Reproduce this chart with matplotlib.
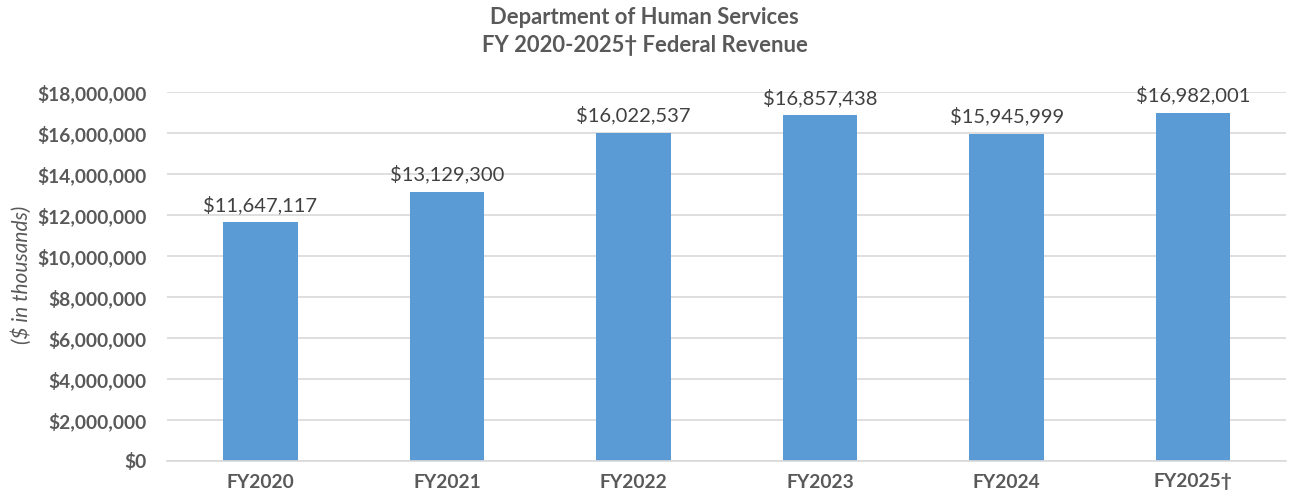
import matplotlib.pyplot as plt
from matplotlib.ticker import FuncFormatter

years = ["FY2020", "FY2021", "FY2022", "FY2023", "FY2024", "FY2025\u2020"]
revenue = [11647117, 13129300, 16022537, 16857438, 15945999, 16982001]
y_ticks = list(range(0, 18000001, 2000000))

plt.rcParams["font.family"] = ["Lato", "DejaVu Sans"]
gray = "#595959"

fig = plt.figure(figsize=(12.89, 5.0), dpi=100)
ax = fig.add_axes([0.1296, 0.078, 0.8684, 0.738])

x = range(len(years))
ax.bar(x, revenue, width=0.4, color="#5B9BD5", zorder=2)

# value labels above each bar
for xi, val in zip(x, revenue):
    ax.annotate(f"${val:,.0f}", (xi, val), xytext=(0, 6), textcoords="offset points",
                ha="center", va="bottom", fontsize=14.5, color="#404040")

ax.set_xlim(-0.5, len(years) - 0.5)
ax.set_ylim(0, 18000000)
ax.set_yticks(y_ticks)
ax.yaxis.set_major_formatter(FuncFormatter(lambda v, p: f"${v:,.0f}"))
ax.set_xticks(list(x))
ax.set_xticklabels(years)

ax.grid(axis="y", color="#D9D9D9", linewidth=1.2, zorder=0)
for side in ["top", "right", "left"]:
    ax.spines[side].set_visible(False)
ax.spines["bottom"].set_color("#D9D9D9")
ax.spines["bottom"].set_linewidth(1.2)
ax.tick_params(length=0)
ax.tick_params(axis="y", pad=14.5)
ax.tick_params(axis="x", pad=9)
for lbl in ax.get_yticklabels() + ax.get_xticklabels():
    lbl.set_fontweight("bold")
    lbl.set_fontsize(13.8)
    lbl.set_color(gray)

fig.text(0.0165, 0.45, "($ in thousands)", rotation=90, ha="center", va="center",
         fontsize=15, style="italic", color=gray)

fig.text(0.5, 0.966, "Department of Human Services", ha="center", va="center",
         fontsize=15.8, fontweight="bold", color=gray)
fig.text(0.5, 0.91, "FY 2020-2025\u2020 Federal Revenue", ha="center", va="center",
         fontsize=15.8, fontweight="bold", color=gray)

fig.savefig("out.png", dpi=100)
